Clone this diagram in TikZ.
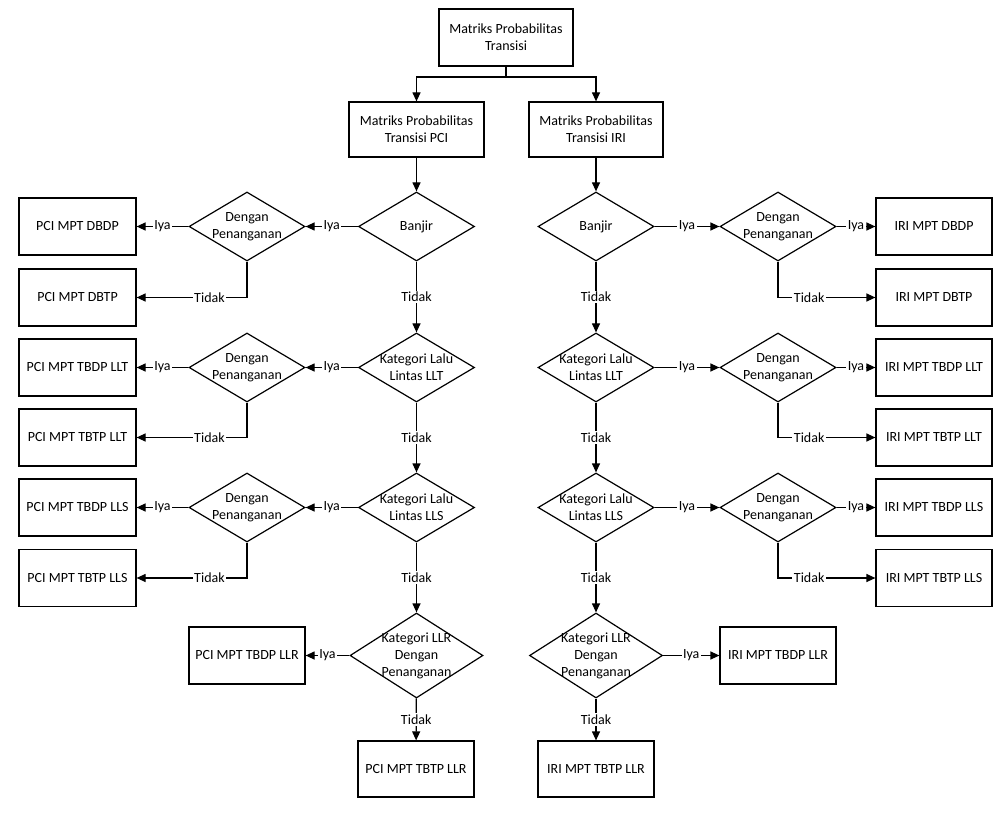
\documentclass[tikz,border=0pt]{standalone}
\usepackage{fontspec}
\setmainfont{Carlito}
\usetikzlibrary{shapes.geometric,arrows.meta}

\begin{document}
\begin{tikzpicture}[x=1pt, y=-1pt, >={Triangle[length=9pt,width=8pt]}, line width=1.2pt,
  font=\fontsize{14}{17}\selectfont,
  box/.style={draw, align=center, minimum width=117pt, minimum height=57pt, inner sep=0pt},
  decision/.style={diamond, draw, minimum width=116pt, minimum height=69pt, inner sep=0pt, aspect=1.68},
  bigdecision/.style={decision, minimum width=133pt, minimum height=85pt, aspect=1.56},
  answer/.style={fill=white, inner sep=1.5pt}]
  \useasboundingbox (0,0) rectangle (1006,818);
  % root and the two matrices
  \node[box, minimum width=134pt] (root) at (506,37.5) {Matriks Probabilitas\\Transisi};
  \coordinate (split) at (506,77);
  \node[box, minimum width=135pt, minimum height=55pt] (pci) at (416.5,129.5) {Matriks Probabilitas\\Transisi PCI};
  \node[box, minimum width=134pt, minimum height=55pt] (iri) at (596,129.5) {Matriks Probabilitas\\Transisi IRI};
  \draw (root) -- (split);
  \draw[->] (split) -| (pci);
  \draw[->] (split) -| (iri);

  % PCI side
  \node[decision, label={center:Banjir}] (pban) at (416.5,226.5) {};
  \node[decision, label={[align=center]center:Kategori Lalu\\Lintas LLT}] (pllt) at (416.5,367.5) {};
  \node[decision, label={[align=center]center:Kategori Lalu\\Lintas LLS}] (plls) at (416.5,507.5) {};
  \node[bigdecision, label={[align=center]center:Kategori LLR\\Dengan\\Penanganan}] (pllr) at (416.5,655.5) {};
  \node[decision, label={[align=center]center:Dengan\\Penanganan}] (ppd1) at (247,226.5) {};
  \node[decision, label={[align=center]center:Dengan\\Penanganan}] (ppd2) at (247,367.5) {};
  \node[decision, label={[align=center]center:Dengan\\Penanganan}] (ppd3) at (247,507.5) {};
  \node[box] (pdbdp) at (77.5,226.5) {PCI MPT DBDP};
  \node[box] (pdbtp) at (77.5,297.5) {PCI MPT DBTP};
  \node[box] (ptbdpllt) at (77.5,367.5) {PCI MPT TBDP LLT};
  \node[box] (ptbtpllt) at (77.5,437.5) {PCI MPT TBTP LLT};
  \node[box] (ptbdplls) at (77.5,507.5) {PCI MPT TBDP LLS};
  \node[box] (ptbtplls) at (77.5,578) {PCI MPT TBTP LLS};
  \node[box, minimum width=116pt] (ptbdpllr) at (247,655.5) {PCI MPT TBDP LLR};
  \node[box, minimum width=116pt, minimum height=56pt] (ptbtpllr) at (416,769) {PCI MPT TBTP LLR};

  \draw[->] (pci) -- (pban);
  \draw[->] (pban) -- node[answer] {Iya} (ppd1);
  \draw[->] (ppd1) -- node[answer] {Iya} (pdbdp);
  \draw[->] (ppd1) |- node[answer, pos=0.67] {Tidak} (pdbtp);
  \draw[->] (pban) -- node[answer] {Tidak} (pllt);
  \draw[->] (pllt) -- node[answer] {Iya} (ppd2);
  \draw[->] (ppd2) -- node[answer] {Iya} (ptbdpllt);
  \draw[->] (ppd2) |- node[answer, pos=0.67] {Tidak} (ptbtpllt);
  \draw[->] (pllt) -- node[answer] {Tidak} (plls);
  \draw[->] (plls) -- node[answer] {Iya} (ppd3);
  \draw[->] (ppd3) -- node[answer] {Iya} (ptbdplls);
  \draw[->] (ppd3) |- node[answer, pos=0.67] {Tidak} (ptbtplls);
  \draw[->] (plls) -- node[answer] {Tidak} (pllr);
  \draw[->] (pllr) -- node[answer] {Iya} (ptbdpllr);
  \draw[->] (pllr) -- node[answer] {Tidak} (ptbtpllr);

  % IRI side
  \node[decision, label={center:Banjir}] (iban) at (596,226.5) {};
  \node[decision, label={[align=center]center:Kategori Lalu\\Lintas LLT}] (illt) at (596,367.5) {};
  \node[decision, label={[align=center]center:Kategori Lalu\\Lintas LLS}] (ills) at (596,507.5) {};
  \node[bigdecision, label={[align=center]center:Kategori LLR\\Dengan\\Penanganan}] (illr) at (596,655.5) {};
  \node[decision, label={[align=center]center:Dengan\\Penanganan}] (ipd1) at (778,226.5) {};
  \node[decision, label={[align=center]center:Dengan\\Penanganan}] (ipd2) at (778,367.5) {};
  \node[decision, label={[align=center]center:Dengan\\Penanganan}] (ipd3) at (778,507.5) {};
  \node[box, minimum width=116pt] (idbdp) at (934,226.5) {IRI MPT DBDP};
  \node[box, minimum width=116pt] (idbtp) at (934,297.5) {IRI MPT DBTP};
  \node[box, minimum width=116pt] (itbdpllt) at (934,367.5) {IRI MPT TBDP LLT};
  \node[box, minimum width=116pt] (itbtpllt) at (934,437.5) {IRI MPT TBTP LLT};
  \node[box, minimum width=116pt] (itbdplls) at (934,507.5) {IRI MPT TBDP LLS};
  \node[box, minimum width=116pt] (itbtplls) at (934,578) {IRI MPT TBTP LLS};
  \node[box, minimum width=116pt] (itbdpllr) at (778,655.5) {IRI MPT TBDP LLR};
  \node[box, minimum width=116pt, minimum height=56pt] (itbtpllr) at (596,769) {IRI MPT TBTP LLR};

  \draw[->] (iri) -- (iban);
  \draw[->] (iban) -- node[answer] {Iya} (ipd1);
  \draw[->] (ipd1) -- node[answer] {Iya} (idbdp);
  \draw[->] (ipd1) |- node[answer, pos=0.66] {Tidak} (idbtp);
  \draw[->] (iban) -- node[answer] {Tidak} (illt);
  \draw[->] (illt) -- node[answer] {Iya} (ipd2);
  \draw[->] (ipd2) -- node[answer] {Iya} (itbdpllt);
  \draw[->] (ipd2) |- node[answer, pos=0.66] {Tidak} (itbtpllt);
  \draw[->] (illt) -- node[answer] {Tidak} (ills);
  \draw[->] (ills) -- node[answer] {Iya} (ipd3);
  \draw[->] (ipd3) -- node[answer] {Iya} (itbdplls);
  \draw[->] (ipd3) |- node[answer, pos=0.66] {Tidak} (itbtplls);
  \draw[->] (ills) -- node[answer] {Tidak} (illr);
  \draw[->] (illr) -- node[answer] {Iya} (itbdpllr);
  \draw[->] (illr) -- node[answer] {Tidak} (itbtpllr);
\end{tikzpicture}
\end{document}
